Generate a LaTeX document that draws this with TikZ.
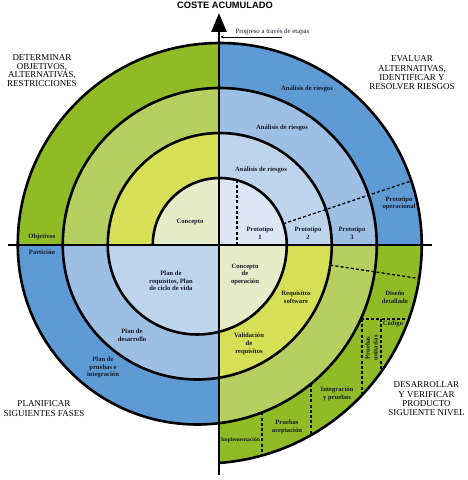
\documentclass[tikz,border=0pt]{standalone}
\usepackage{fontspec}
\setmainfont{Liberation Serif}
\newfontfamily\headsans{Liberation Sans}
\usetikzlibrary{arrows.meta,calc}
\definecolor{gA}{HTML}{E6ECC8}
\definecolor{gB}{HTML}{D7DF57}
\definecolor{gC}{HTML}{B6CF60}
\definecolor{gD}{HTML}{8FBC26}
\definecolor{bA}{HTML}{DCE6F5}
\definecolor{bB}{HTML}{BED3EC}
\definecolor{bC}{HTML}{9EBFE4}
\definecolor{bD}{HTML}{5E9AD4}
\definecolor{txt}{HTML}{151A26}
\tikzset{
  lab/.style={font=\bfseries\fontsize{6.6}{7.6}\selectfont, align=center, text=txt, inner sep=0pt},
  ttl/.style={font=\fontsize{9}{9.3}\selectfont, align=center, text=black, inner sep=0pt},
  spiralline/.style={line width=2.6pt, black, line join=round},
  axisline/.style={line width=2.6pt, black},
  dashline/.style={line width=1.3pt, dash pattern=on 3pt off 2.2pt, black},
}
\begin{document}
\begin{tikzpicture}[x=1pt,y=1pt]
\useasboundingbox[fill=white] (0,0) rectangle (468,480);
\coordinate (U) at (219.75,235);
\coordinate (L) at (197.25,235);
\coordinate (F) at (203.2,235);

% top-left quadrant
\begin{scope}
\clip (0,235) rectangle (219,480);
\fill[gD] (U) circle[radius=202pt];
\fill[gC] (U) circle[radius=157pt];
\fill[gB] (U) circle[radius=112pt];
\fill[gA] (U) circle[radius=67pt];
\end{scope}
% top-right quadrant
\begin{scope}
\clip (219,235) rectangle (468,480);
\fill[bD] (U) circle[radius=202pt];
\fill[bC] (U) circle[radius=157pt];
\fill[bB] (U) circle[radius=112pt];
\fill[bA] (U) circle[radius=67pt];
\end{scope}
% bottom-left quadrant
\begin{scope}
\clip (0,0) rectangle (219,235);
\fill[bD] (L) circle[radius=179.5pt];
\fill[bC] (L) circle[radius=134.5pt];
\fill[bB] (L) circle[radius=89.5pt];
\end{scope}
% bottom-right quadrant
\begin{scope}
\clip (219,0) rectangle (468,235);
\fill[gD] (F) circle[radius=218.55pt];
\fill[gC] (L) circle[radius=179.5pt];
\fill[gB] (L) circle[radius=134.5pt];
\fill[gA] (L) circle[radius=89.5pt];
\end{scope}

% dashed dividers
\begin{scope}
\clip (U) circle[radius=67pt];
\draw[dashline] (237,235) -- (237,310);
\end{scope}
\draw[dashline] ($(U)+(18.5:67)$) -- ($(U)+(18.5:202)$);
\draw[dashline] ($(L)+(-8.6:134.5)$) -- ($(L)+(-8.6:224.5)$);
\draw[dashline] (360.8,161) -- (408.8,161);
\draw[dashline] (362,161) -- (362,84.8);
\draw[dashline] (381,161) -- (381,107.9);
\draw[dashline] (311,96.1) -- (311,44.9);
\draw[dashline] (262,67.6) -- (262,24.5);

% spiral
\draw[spiralline] (152.75,235)
  arc[start angle=180,end angle=0,radius=67pt]
  arc[start angle=0,end angle=-180,radius=89.5pt]
  arc[start angle=180,end angle=0,radius=112pt]
  arc[start angle=0,end angle=-180,radius=134.5pt]
  arc[start angle=180,end angle=0,radius=157pt]
  arc[start angle=0,end angle=-180,radius=179.5pt]
  arc[start angle=180,end angle=0,radius=202pt]
  arc[start angle=0,end angle=-85.85,radius=218.55pt];

% axes
\coordinate (axL) at (8,235);
\coordinate (axR) at (432,235);
\coordinate (axB) at (219,5);
\coordinate (axT) at (219,467);
\draw[axisline] (axL) -- (axR);
\draw[axisline,-{Triangle[length=19pt,width=15pt]}] (axB) -- (axT);

\node[font=\headsans\bfseries\fontsize{9.3}{10}\selectfont, inner sep=0pt] (coste) at (225,474.5) {COSTE ACUMULADO};
\node[lab, anchor=west, font=\fontsize{6.8}{7.5}\selectfont] (prog) at (235.5,448.5) {Progreso a través de etapas};
\coordinate (pR) at (282,443);
\coordinate (pL) at (220.5,443);
\draw[line width=0.6pt,-{Stealth[length=3pt,width=3pt]}] (pR) -- (pL);

% quadrant titles
\node[ttl, font=\fontsize{9}{8.5}\selectfont] (q1) at (42,409.5) {DETERMINAR\\OBJETIVOS,\\ALTERNATIVAS,\\RESTRICCIONES};
\node[ttl] (q2) at (412,407) {EVALUAR\\ALTERNATIVAS,\\IDENTIFICAR Y\\RESOLVER RIESGOS};
\node[ttl, font=\fontsize{9}{10}\selectfont] (q3) at (44,71) {PLANIFICAR\\SIGUIENTES FASES};
\node[ttl] (q4) at (426.5,81) {DESARROLLAR\\Y VERIFICAR\\PRODUCTO\\SIGUIENTE NIVEL};

% top-left labels
\node[lab] (concepto) at (190,258) {Concepto};
\node[lab] (objetivos) at (42,243) {Objetivos};
% top-right labels
\node[lab] (ar3) at (307,391) {Análisis de riesgos};
\node[lab] (ar2) at (282,352) {Análisis de riesgos};
\node[lab] (ar1) at (261,310) {Análisis de riesgos};
\node[lab] (p1) at (260,246.5) {Prototipo\\1};
\node[lab] (p2) at (308,246.5) {Prototipo\\2};
\node[lab] (p3) at (352,246.5) {Prototipo\\3};
\node[lab] (pop) at (399,276.5) {Prototipo\\operacional};
% bottom-left labels
\node[lab] (particion) at (42,228) {Partición};
\node[lab] (planreq) at (171,199) {Plan de\\requisitos, Plan\\de ciclo de vida};
\node[lab] (plandes) at (132,144.5) {Plan de\\desarrollo};
\node[lab] (planpru) at (103,112.5) {Plan de\\pruebas e\\integración};
% bottom-right labels
\node[lab] (concop) at (245,205.5) {Concepto\\de\\operación};
\node[lab] (reqsw) at (296,183) {Requisitos\\software};
\node[lab] (valreq) at (249,136) {Validación\\de\\requisitos};
\node[lab] (disdet) at (395,183) {Diseño\\detallado};
\node[lab] (codigo) at (393,156) {Código};
\node[lab, rotate=90] (pruuni) at (371.5,132) {Pruebas\\unitarias};
\node[lab] (intpru) at (337,86) {Integración\\y pruebas};
\node[lab] (pruace) at (287,53) {Pruebas\\aceptación};
\node[lab, font=\bfseries\fontsize{5.6}{7}\selectfont] (impl) at (240.5,40) {Implementación};
\end{tikzpicture}
\end{document}
